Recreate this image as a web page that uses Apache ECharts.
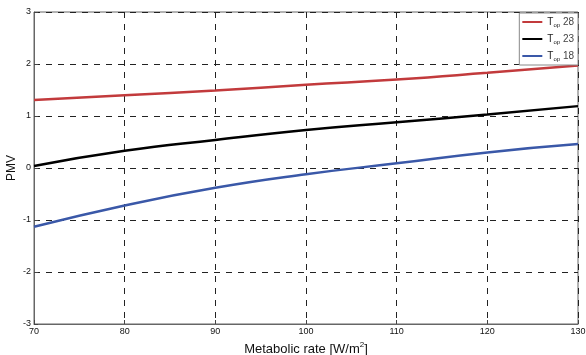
<!DOCTYPE html>
<html>
<head>
<meta charset="utf-8">
<script src="https://cdn.jsdelivr.net/npm/echarts@6/dist/echarts.min.js"></script>
<style>
  html, body { margin: 0; padding: 0; background: #fff; }
  #chart { width: 586px; height: 355px; }
</style>
</head>
<body>
<div id="chart"></div>
<script>
const metabolic = [70, 80, 90, 100, 110, 120, 130];
const pmv28 = [1.31, 1.40, 1.49, 1.60, 1.70, 1.83, 1.97];
const pmv23 = [0.04, 0.33, 0.54, 0.73, 0.88, 1.03, 1.19];
const pmv18 = [-1.13, -0.72, -0.38, -0.12, 0.09, 0.30, 0.46];
const seriesNames = ['T28', 'T23', 'T18'];
const seriesLabels = ['28', '23', '18'];
const colors = ['#c23a3c', '#000000', '#3a58a8'];

const chart = echarts.init(document.getElementById('chart'));
const font = 'Liberation Sans, Arial, sans-serif';
const dashed = { color: '#222', type: [6, 6], width: 1 };

const mk = (name, vals, color) => ({
  name: name,
  type: 'line',
  data: metabolic.map((m, i) => [m, vals[i]]),
  smooth: true,
  symbol: 'none',
  lineStyle: { color: color, width: 2.5 },
  itemStyle: { color: color }
});

chart.setOption({
  animation: false,
  grid: {
    left: 34, right: 8, top: 12, bottom: 31,
    outerBoundsMode: 'none', containLabel: false,
    show: true, borderColor: '#666', borderWidth: 1
  },
  legend: {
    data: seriesNames,
    orient: 'vertical',
    right: 8,
    top: 13,
    backgroundColor: '#fff',
    borderColor: '#888',
    borderWidth: 1,
    padding: [4, 4, 3, 3],
    itemGap: 6,
    itemWidth: 20,
    itemHeight: 2,
    icon: 'rect',
    formatter: name => '{t|T}{s|op} {n|' + seriesLabels[seriesNames.indexOf(name)] + '}',
    textStyle: {
      fontFamily: font,
      fontSize: 10,
      color: '#222',
      rich: {
        t: { fontSize: 10, fontFamily: font, color: '#222' },
        s: { fontSize: 6, fontFamily: font, color: '#222', padding: [6, 0, 0, 0] },
        n: { fontSize: 10, fontFamily: font, color: '#444' }
      }
    }
  },
  xAxis: {
    type: 'value',
    min: 70,
    max: 130,
    interval: 10,
    name: 'Metabolic rate [W/m{sup|2}]',
    nameLocation: 'middle',
    nameGap: 17,
    nameMoveOverlap: false,
    nameTextStyle: {
      fontFamily: font, fontSize: 13, color: '#111',
      rich: { sup: { fontSize: 8, fontFamily: font, color: '#111', padding: [0, 0, 8, 0] } }
    },
    axisLine: { show: true, onZero: false, lineStyle: { color: '#666' } },
    axisTick: { show: true, inside: true, length: 4, lineStyle: { color: '#444' } },
    axisLabel: { fontFamily: font, fontSize: 9, color: '#111', margin: 3 },
    splitLine: { show: true, lineStyle: dashed }
  },
  yAxis: {
    type: 'value',
    min: -3,
    max: 3,
    interval: 1,
    name: 'PMV',
    nameLocation: 'middle',
    nameRotate: 90,
    nameGap: 16,
    nameMoveOverlap: false,
    nameTextStyle: { fontFamily: font, fontSize: 12, color: '#111' },
    axisLine: { show: true, onZero: false, lineStyle: { color: '#666' } },
    axisTick: { show: true, inside: true, length: 4, lineStyle: { color: '#444' } },
    axisLabel: { fontFamily: font, fontSize: 9, color: '#111', margin: 3 },
    splitLine: { show: true, lineStyle: dashed }
  },
  series: [
    mk(seriesNames[0], pmv28, colors[0]),
    mk(seriesNames[1], pmv23, colors[1]),
    mk(seriesNames[2], pmv18, colors[2])
  ]
});
</script>
</body>
</html>
